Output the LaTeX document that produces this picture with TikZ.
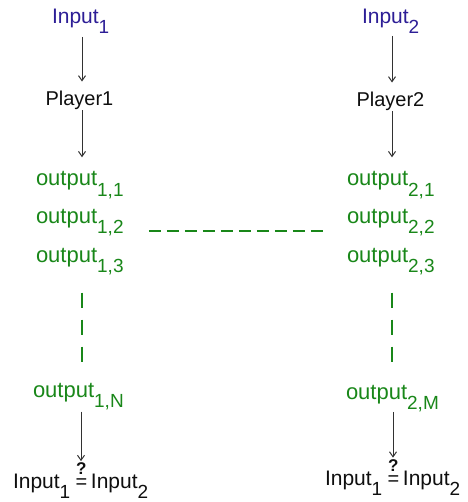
\documentclass[tikz,border=0pt]{standalone}
\usepackage{fontspec}
\setmainfont{Liberation Sans}
\usetikzlibrary{arrows.meta}
\definecolor{inblue}{RGB}{45,30,150}
\definecolor{outgreen}{RGB}{25,135,25}
\definecolor{txtblack}{RGB}{15,15,15}
\definecolor{arrgray}{RGB}{50,50,50}
\newcommand{\sbs}[1]{\raisebox{-10pt}{\fontsize{19}{19}\selectfont #1}}
\newcommand{\qeq}{\makebox[11.7pt]{\makebox[0pt]{\raisebox{14pt}{\fontsize{17}{17}\selectfont\bfseries ?}}\makebox[0pt]{\fontsize{20}{20}\selectfont =}}}
\tikzset{
  lbl/.style={anchor=base west, inner sep=0pt, outer sep=0pt},
  intxt/.style={lbl, text=inblue, font=\fontsize{21}{21}\selectfont},
  pltxt/.style={lbl, text=txtblack, font=\fontsize{20}{20}\selectfont},
  outtxt/.style={lbl, text=outgreen, font=\fontsize{22}{22}\selectfont},
  bottxt/.style={lbl, text=txtblack, font=\fontsize{21}{21}\selectfont},
  arr/.style={draw=arrgray, line width=1pt, -{Straight Barb[length=5pt,width=7pt]}},
  vdash/.style={draw=outgreen, line width=1.4pt, dash pattern=on 15pt off 12pt},
  hdash/.style={draw=outgreen, line width=1.4pt, dash pattern=on 12pt off 6pt}
}
\begin{document}
\begin{tikzpicture}[x=1pt,y=-1pt]
\useasboundingbox (0,0) rectangle (467,502);
\coordinate (colL) at (82,0);
\coordinate (colR) at (392,0);
\coordinate (colLb) at (81,0);
\coordinate (colRb) at (393,0);
\coordinate (hy) at (0,231);
% left column
\node[intxt]  (in1) at (52,24)  {Input\sbs{1}};
\node[pltxt]  (pl1) at (45.5,106) {Player1};
\node[outtxt] (o11) at (36,186) {output\sbs{1,1}};
\node[outtxt] (o12) at (36,223) {output\sbs{1,2}};
\node[outtxt] (o13) at (36,262) {output\sbs{1,3}};
\node[outtxt] (o1N) at (33,397) {output\sbs{1,N}};
\node[bottxt] (botL) at (13,488) {Input\sbs{1}\hspace{5.3pt}\qeq\hspace{3.7pt}Input\sbs{2}};
% right column
\node[intxt]  (in2) at (362,24)  {Input\sbs{2}};
\node[pltxt]  (pl2) at (356.5,107) {Player2};
\node[outtxt] (o21) at (347,186) {output\sbs{2,1}};
\node[outtxt] (o22) at (347,223) {output\sbs{2,2}};
\node[outtxt] (o23) at (347,262) {output\sbs{2,3}};
\node[outtxt] (o2M) at (346,399) {output\sbs{2,M}};
\node[bottxt] (botR) at (325,485) {Input\sbs{1}\hspace{5.3pt}\qeq\hspace{3.7pt}Input\sbs{2}};
% arrows left
\draw[arr, shorten <=3pt, shorten >=10pt] (in1.south -| colL) -- (pl1.north -| colL);
\draw[arr, shorten <=0pt, shorten >=14.5pt] (pl1.south -| colL) -- (o11.north -| colL);
\draw[arr, shorten <=2.2pt, shorten >=1pt] (o1N.south -| colLb) -- (botL.north -| colLb);
% arrows right
\draw[arr, shorten <=2pt, shorten >=10pt] (in2.south -| colR) -- (pl2.north -| colR);
\draw[arr, shorten <=0pt, shorten >=14.5pt] (pl2.south -| colR) -- (o21.north -| colR);
\draw[arr, shorten <=0.5pt, shorten >=1.5pt] (o2M.south -| colRb) -- (botR.north -| colRb);
% vertical dashes
\draw[vdash, shorten <=18.2pt, shorten >=20.5pt] (o13.south -| colL) -- (o1N.north -| colL);
\draw[vdash, shorten <=18.2pt, shorten >=22pt] (o23.south -| colR) -- (o2M.north -| colR);
% horizontal dashes
\draw[hdash, shorten <=25.4pt, shorten >=23pt] (o12.east |- hy) -- (o22.west |- hy);
\end{tikzpicture}
\end{document}
